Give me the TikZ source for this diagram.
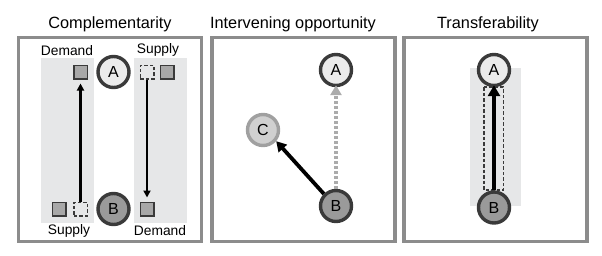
\documentclass[tikz,border=0pt]{standalone}
\usepackage{fontspec}
\setmainfont{Liberation Sans}
\usetikzlibrary{arrows.meta}
\definecolor{band}{HTML}{E6E7E8}
\definecolor{frame}{HTML}{8C8C8C}
\definecolor{ringdark}{HTML}{3A3A3A}
\definecolor{fillA}{HTML}{EBEBEB}
\definecolor{fillB}{HTML}{9A9A9A}
\definecolor{fillC}{HTML}{D0D0D0}
\definecolor{ringC}{HTML}{A0A0A0}
\definecolor{sqfill}{HTML}{A8A8A8}
\definecolor{dashgray}{HTML}{ABABAB}
\tikzset{
  panel/.style={draw=frame, line width=3.3pt},
  title/.style={font=\fontsize{16.3}{19}\selectfont},
  lbl/.style={font=\fontsize{13.8}{16}\selectfont},
  place/.style={circle, minimum size=31pt, inner sep=0pt, line width=3.4pt, font=\fontsize{16}{18}\selectfont},
  placeA/.style={place, draw=ringdark, fill=fillA},
  placeB/.style={place, draw=ringdark, fill=fillB},
  placeC/.style={place, draw=ringC, fill=fillC},
  sq/.style={rectangle, minimum size=13.5pt, inner sep=0pt, draw=ringdark, line width=1.5pt, fill=sqfill},
  dsq/.style={rectangle, minimum size=13.5pt, inner sep=0pt, draw=ringdark, line width=1.5pt, dash pattern=on 3.5pt off 2pt, fill=band},
  flow/.style={line width=2.1pt, -{Triangle[length=7pt,width=7pt]}},
}
\begin{document}
\begin{tikzpicture}[x=1pt,y=-1pt]
\useasboundingbox (0,0) rectangle (602,255);
\fill[white] (0,0) rectangle (602,255);
% ---------- Panel 1: Complementarity ----------
\node[title] (t1) at (110,24) {Complementarity};
\draw[panel] (18.5,37.5) rectangle (201.5,241.5);
\fill[band] (41,58) rectangle (94,223);
\fill[band] (134,58) rectangle (187,223);
\node[placeA] (A1) at (113.5,72) {A};
\node[placeB] (B1) at (113.5,209) {B};
\node[sq] (dL) at (80.5,72) {};
\node[sq] (sLg) at (59,209) {};
\node[dsq] (sL) at (80.5,209) {};
\node[dsq] (sR) at (147,72) {};
\node[sq] (sRg) at (167,72) {};
\node[sq] (dR) at (147,209) {};
\draw[flow] (sL.north) -- ([yshift=-4pt]dL.south);
\draw[flow] (sR.south) -- ([yshift=4pt]dR.north);
\node[lbl] (l1) at (67,51) {Demand};
\node[lbl] (l2) at (158,50) {Supply};
\node[lbl] (l3) at (69,231) {Supply};
\node[lbl] (l4) at (160,231) {Demand};
% ---------- Panel 2: Intervening opportunity ----------
\node[title] (t2) at (293,24) {Intervening opportunity};
\draw[panel] (212,37.5) rectangle (395,241.5);
\node[placeA] (A2) at (336,70) {A};
\node[placeC] (C2) at (263,130) {C};
\node[placeB] (B2) at (336,206) {B};
\draw[dashgray, line width=3.8pt, dash pattern=on 3pt off 2pt, -{Triangle[length=10pt,width=11pt]}] (B2.north) -- ([yshift=2pt]A2.south);
\draw[black, line width=3.8pt, -{Triangle[length=10pt,width=11pt]}] (B2.north west) -- ([xshift=1pt,yshift=1pt]C2.south east);
% ---------- Panel 3: Transferability ----------
\node[title] (t3) at (488,24) {Transferability};
\draw[panel] (404,37.5) rectangle (587,241.5);
\fill[band] (470,68) rectangle (521,206);
\draw[ringdark, line width=1.5pt, dash pattern=on 3.5pt off 2pt] (484,87) rectangle (503.5,190);
\node[placeA] (A3) at (494,70) {A};
\node[placeB] (B3) at (494,207.5) {B};
\draw[black, line width=4.8pt, -{Triangle[length=11pt,width=12pt]}] (B3.north) -- ([yshift=2pt]A3.south);
\end{tikzpicture}
\end{document}
